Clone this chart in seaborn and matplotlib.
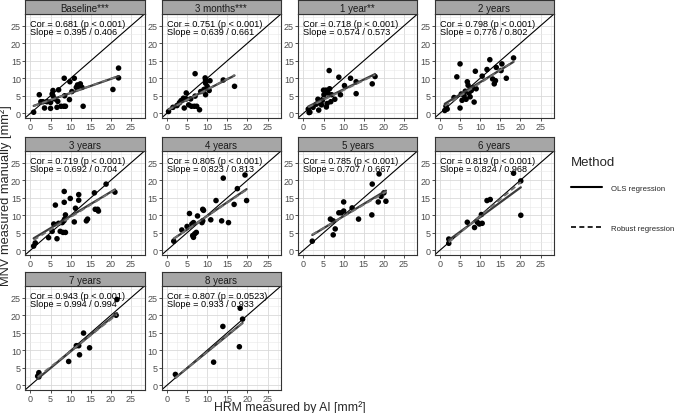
import numpy as np
import pandas as pd
import seaborn as sns
import matplotlib.pyplot as plt
from matplotlib.lines import Line2D
from matplotlib.ticker import MultipleLocator

sns.set_style("white")
plt.rcParams['font.family'] = ['Liberation Sans', 'DejaVu Sans']

# Panel titles and the stats printed in each panel
titles = ["Baseline***", "3 months***", "1 year**", "2 years", "3 years",
          "4 years", "5 years", "6 years", "7 years", "8 years"]
cor_text = ["0.681 (p < 0.001)", "0.751 (p < 0.001)", "0.718 (p < 0.001)",
            "0.798 (p < 0.001)", "0.719 (p < 0.001)", "0.805 (p < 0.001)",
            "0.785 (p < 0.001)", "0.819 (p < 0.001)", "0.943 (p < 0.001)",
            "0.807 (p = 0.0523)"]
slope_text = ["0.395 / 0.406", "0.639 / 0.661", "0.574 / 0.573", "0.776 / 0.802",
              "0.692 / 0.704", "0.823 / 0.813", "0.707 / 0.667", "0.824 / 0.968",
              "0.994 / 0.994", "0.933 / 0.933"]

# HRM by AI (x) and MNV manual (y)
x_baseline = [0.8, 2.2, 2.6, 3.1, 3.5, 4.1, 5.0, 5.0, 5.4, 5.6, 5.6, 6.0, 6.6, 6.8, 7.0,
              7.6, 8.3, 8.4, 8.5, 8.7, 9.7, 9.8, 10.3, 10.9, 11.4, 11.7, 12.1, 12.4,
              12.8, 13.1, 20.5, 21.9, 21.9]
y_baseline = [0.3, 5.3, 3.3, 3.3, 1.5, 3.3, 1.4, 3.1, 5.5, 6.5, 5.0, 4.1, 1.7, 3.4, 6.7,
              2.0, 2.0, 10.0, 5.0, 2.0, 3.9, 9.0, 6.2, 10.0, 7.4, 8.1, 7.7, 8.4,
              7.4, 2.0, 6.8, 12.9, 10.1]

x_3m = [0.4, 1.5, 2.5, 3.1, 3.5, 4.1, 4.3, 4.8, 4.8, 5.4, 5.9, 6.1, 6.8, 7.0, 7.0,
        7.4, 8.1, 8.4, 9.2, 9.5, 9.6, 9.6, 9.6, 10.0, 10.5, 10.7, 14.0, 16.8]
y_3m = [0.5, 1.7, 2.2, 3.0, 3.6, 4.3, 1.5, 4.1, 5.8, 2.4, 4.1, 2.0, 2.0, 4.9, 11.3,
        2.0, 1.0, 6.2, 6.8, 10.1, 9.5, 8.6, 5.3, 7.7, 6.5, 9.3, 9.5, 7.7]

x_1y = [1.4, 1.2, 1.6, 2.4, 3.2, 3.6, 3.8, 4.1, 4.5, 4.7, 5.0, 5.1, 5.6, 5.7, 5.9,
        6.1, 6.4, 6.5, 6.8, 7.0, 7.8, 8.8, 9.2, 10.2, 11.7, 13.1, 13.1, 17.1, 17.8]
y_1y = [0.2, 1.2, 0.3, 1.7, 2.6, 4.0, 0.9, 3.0, 2.4, 3.7, 6.6, 5.3, 6.6, 1.8, 2.8,
        5.8, 12.2, 7.0, 3.3, 5.3, 4.0, 10.3, 5.3, 7.9, 10.0, 9.0, 5.6, 8.4, 10.5]

x_2y = [1.2, 1.5, 1.8, 3.5, 4.2, 5.0, 5.0, 5.3, 5.5, 6.0, 6.3, 6.5, 6.8, 7.0, 7.2,
        7.5, 7.8, 8.2, 8.5, 8.8, 9.0, 10.5, 11.7, 12.4, 13.1, 13.5, 13.8, 14.0,
        15.2, 15.4, 16.5, 18.3]
y_2y = [0.8, 2.0, 1.2, 4.5, 10.4, 14.1, 1.5, 5.5, 3.7, 5.0, 6.3, 4.0, 9.0, 8.0, 5.8,
        4.7, 6.5, 7.3, 3.2, 12.0, 7.0, 10.6, 12.5, 15.3, 9.8, 8.4, 9.3, 13.1,
        12.2, 14.1, 10.0, 15.8]

x_3y = [0.8, 1.2, 4.5, 5.4, 5.8, 6.2, 6.6, 7.0, 7.4, 7.9, 8.1, 8.4, 8.4, 8.3, 8.7,
        8.5, 8.7, 9.9, 10.9, 11.2, 12.0, 12.0, 13.9, 14.2, 15.9, 16.1, 16.7, 16.9,
        18.8, 21.0]
y_3y = [1.2, 2.1, 3.6, 5.4, 7.5, 12.9, 3.3, 7.7, 5.4, 7.9, 5.1, 16.8, 13.7, 8.4, 10.1,
        8.9, 5.1, 14.8, 8.1, 12.0, 15.9, 14.3, 8.4, 8.9, 16.4, 11.7, 11.7, 11.2,
        18.9, 16.6]

x_4y = [1.7, 3.7, 5.0, 5.6, 6.2, 6.6, 6.4, 6.6, 6.9, 7.3, 7.6, 8.7, 8.9, 8.9, 9.1,
        10.9, 12.2, 13.6, 14.0, 15.3, 16.7, 17.5, 19.4, 19.8]
y_4y = [2.6, 5.8, 6.8, 10.5, 7.5, 7.9, 4.2, 3.7, 4.7, 5.1, 9.8, 7.9, 8.4, 11.7, 11.4,
        8.7, 14.2, 8.4, 20.6, 7.9, 13.1, 17.6, 21.5, 14.2]

x_5y = [2.2, 6.7, 7.4, 7.9, 7.4, 8.8, 9.4, 10.0, 10.0, 12.1, 13.7, 17.0, 17.1, 18.8,
        18.6, 19.3, 20.0, 20.5]
y_5y = [2.6, 8.9, 8.4, 6.1, 4.4, 10.7, 10.7, 11.2, 13.8, 12.1, 8.9, 10.1, 18.9, 21.8,
        13.8, 15.4, 16.4, 14.0]

x_6y = [2.2, 2.2, 6.8, 8.6, 9.3, 9.8, 10.3, 10.5, 11.7, 12.5, 18.3, 20.1, 20.1]
y_6y = [3.2, 2.0, 8.0, 6.5, 8.0, 7.5, 10.2, 7.7, 14.2, 14.5, 22.0, 19.8, 10.0]

x_7y = [2.1, 2.1, 2.1, 1.8, 9.5, 11.4, 12.0, 12.2, 13.2, 14.7, 21.3, 21.5]
y_7y = [3.6, 3.0, 2.4, 2.6, 6.8, 11.3, 11.3, 8.7, 14.9, 10.7, 20.0, 24.5]

x_8y = [2.1, 11.6, 13.9, 18.2, 18.8, 18.0]
y_8y = [3.1, 6.6, 16.8, 22.0, 18.9, 11.0]

xs = [x_baseline, x_3m, x_1y, x_2y, x_3y, x_4y, x_5y, x_6y, x_7y, x_8y]
ys = [y_baseline, y_3m, y_1y, y_2y, y_3y, y_4y, y_5y, y_6y, y_7y, y_8y]

df = pd.concat([pd.DataFrame({'visit': t, 'ai': x, 'manual': y})
                for t, x, y in zip(titles, xs, ys)], ignore_index=True)


def huber_fit(x, y, k=1.345, n_iter=50):
    # simple IRLS Huber regression for the dashed robust line
    X = np.column_stack([np.ones_like(x), x])
    w = np.ones_like(x)
    for _ in range(n_iter):
        sw = np.sqrt(w)
        beta = np.linalg.lstsq(X * sw[:, None], y * sw, rcond=None)[0]
        r = y - X @ beta
        s = np.median(np.abs(r - np.median(r))) / 0.6745
        u = np.abs(r) / (k * s + 1e-12)
        w = np.where(u <= 1, 1.0, 1.0 / u)
    return beta


W, H = 677, 414
fig = plt.figure(figsize=(W / 100, H / 100), dpi=100)

col_left = [25, 161.5, 298, 434.5]
row_top = [15, 152, 287]
pw, ph, sh = 119.5, 104, 14
lim = (-1.35, 28.35)

for i, title in enumerate(titles):
    r, c = divmod(i, 4)
    l, t = col_left[c], row_top[r]
    ax = fig.add_axes([l / W, 1 - (t + ph) / H, pw / W, ph / H])
    sub = df[df['visit'] == title]

    ax.set_xlim(lim)
    ax.set_ylim(lim)
    ax.xaxis.set_major_locator(MultipleLocator(5))
    ax.yaxis.set_major_locator(MultipleLocator(5))
    ax.xaxis.set_minor_locator(MultipleLocator(2.5))
    ax.yaxis.set_minor_locator(MultipleLocator(2.5))
    ax.grid(which='major', color='#d9d9d9', lw=0.6)
    ax.grid(which='minor', color='#e8e8e8', lw=0.4)
    ax.set_axisbelow(True)
    ax.tick_params(which='major', labelsize=6.5, length=2.2, width=0.6,
                   color='#333333', labelcolor='#4d4d4d', pad=0.8,
                   bottom=True, left=True)
    ax.tick_params(which='minor', length=0)
    for sp in ax.spines.values():
        sp.set_color('#333333')
        sp.set_linewidth(0.8)

    ax.axline((0, 0), slope=1, color='black', lw=0.8, zorder=2)
    sns.scatterplot(data=sub, x='ai', y='manual', ax=ax, color='black', s=16,
                    edgecolor='none', linewidth=0, zorder=3)
    sns.regplot(data=sub, x='ai', y='manual', ax=ax, scatter=False, ci=None,
                truncate=True, color='#3a3a3a',
                line_kws=dict(lw=1.6, zorder=4))
    b0, b1 = huber_fit(sub['ai'].to_numpy(), sub['manual'].to_numpy())
    xr = np.array([sub['ai'].min(), sub['ai'].max()])
    ax.plot(xr, b0 + b1 * xr, color='#707070', lw=1.3, ls=(0, (3, 2)), zorder=5)
    ax.set_xlabel('')
    ax.set_ylabel('')

    # two-line stats label, tight line spacing as in the original
    ax.text(0, 27.0, f"Cor = {cor_text[i]}\nSlope = {slope_text[i]}",
            fontsize=6.6, va='top', ha='left', color='black', linespacing=0.85)

    # strip on top of the panel
    sax = fig.add_axes([l / W, 1 - t / H, pw / W, sh / H])
    sax.set_facecolor('#a6a6a6')
    sax.set_xticks([])
    sax.set_yticks([])
    for sp in sax.spines.values():
        sp.set_color('#333333')
        sp.set_linewidth(0.8)
    sax.text(0.5, 0.45, title, transform=sax.transAxes, ha='center', va='center',
             fontsize=7, color='#1a1a1a')

fig.text(6 / W, 1 - 196 / H, "MNV measured manually [mm²]", rotation=90,
         ha='center', va='center', fontsize=9.3)
fig.text(289.5 / W, 1 - 411.2 / H, "HRM measured by AI [mm²]", ha='center',
         va='baseline', fontsize=8.8)

handles = [Line2D([], [], color='black', lw=1.5),
           Line2D([], [], color='black', lw=1.2, ls=(0, (3, 2)))]
leg = fig.legend(handles, ["OLS regression", "Robust regression"], title="Method",
                 loc='upper left', bbox_to_anchor=(567 / W, 1 - 153 / H),
                 frameon=False, fontsize=5.6, title_fontsize=9.5, borderpad=0,
                 handlelength=4.0, handletextpad=1.2, labelspacing=4.2)
leg._legend_box.align = "left"
leg._legend_box.sep = 12

fig.savefig("out.png", dpi=100)
